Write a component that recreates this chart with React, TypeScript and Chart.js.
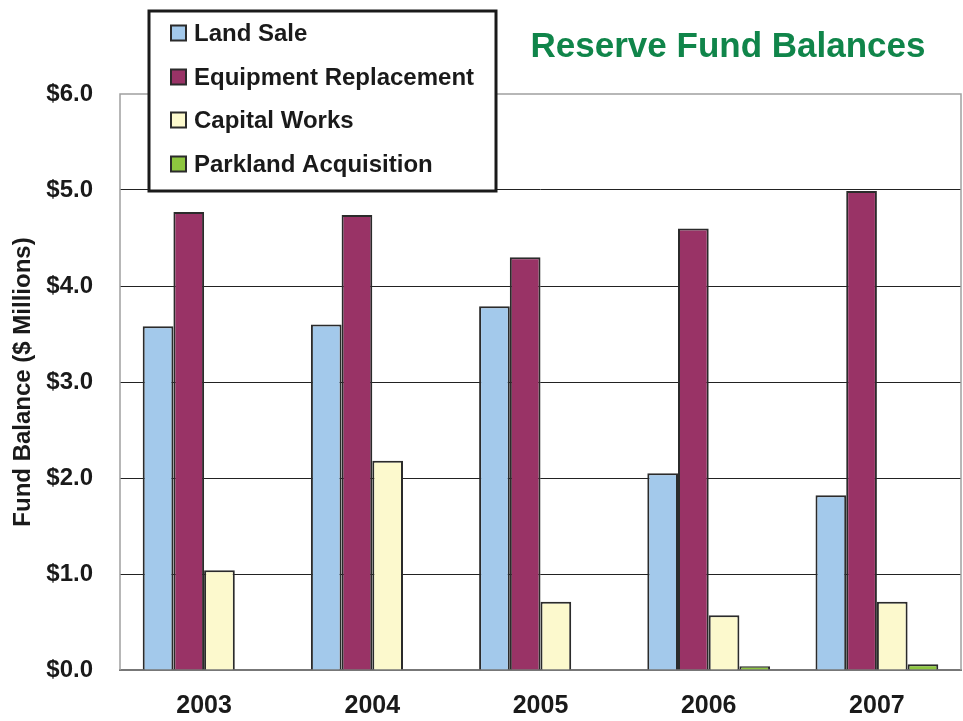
import React, { useEffect, useRef } from "react";
import { Chart, registerables } from "chart.js";

Chart.register(...registerables);

const years = ["2003", "2004", "2005", "2006", "2007"];
const landSale = [3.58, 3.6, 3.79, 2.05, 1.82];
const equipmentReplacement = [4.77, 4.74, 4.3, 4.6, 4.99];
const capitalWorks = [1.04, 2.18, 0.71, 0.57, 0.71];
const parklandAcquisition = [0, 0, 0, 0.04, 0.06];
const yTicks = [0, 1, 2, 3, 4, 5, 6];

const seriesNames = ["Land Sale", "Equipment Replacement", "Capital Works", "Parkland Acquisition"];
const seriesColors = ["#a3c9eb", "#993366", "#fcf9cd", "#8dc63f"];
const FONT = "'Liberation Sans', Arial, Helvetica, sans-serif";

const overlayPlugin = {
  id: "overlay",
  beforeDatasetsDraw(chart: any) {
    const { ctx, chartArea: a } = chart;
    ctx.save();
    ctx.strokeStyle = "#a0a0a0";
    ctx.lineWidth = 1.5;
    ctx.beginPath();
    ctx.moveTo(a.left, a.bottom);
    ctx.lineTo(a.left, a.top);
    ctx.lineTo(a.right, a.top);
    ctx.lineTo(a.right, a.bottom);
    ctx.stroke();
    ctx.restore();
  },
  afterDraw(chart: any) {
    const { ctx } = chart;
    ctx.save();
    // title
    ctx.fillStyle = "#10854a";
    ctx.font = `bold 35px ${FONT}`;
    ctx.textAlign = "center";
    ctx.textBaseline = "middle";
    ctx.fillText("Reserve Fund Balances", 728, 47);
    // legend box
    const bx = 149, by = 11, bw = 347, bh = 180;
    ctx.fillStyle = "#ffffff";
    ctx.fillRect(bx, by, bw, bh);
    ctx.strokeStyle = "#1a1a1a";
    ctx.lineWidth = 3;
    ctx.strokeRect(bx, by, bw, bh);
    const rowY = [33, 77, 120, 164];
    chart.data.datasets.forEach((ds: any, i: number) => {
      const y = rowY[i];
      ctx.fillStyle = ds.backgroundColor;
      ctx.fillRect(171, y - 7.5, 15, 15);
      ctx.strokeStyle = "#2b2b2b";
      ctx.lineWidth = 2;
      ctx.strokeRect(171, y - 7.5, 15, 15);
      ctx.fillStyle = "#1a1a1a";
      ctx.font = `bold 24px ${FONT}`;
      ctx.textAlign = "left";
      ctx.textBaseline = "middle";
      ctx.fillText(ds.label, 194, y + 1);
    });
    ctx.restore();
  },
};

export default function App() {
  const ref = useRef<HTMLCanvasElement>(null);
  useEffect(() => {
    if (!ref.current) return;
    const values = [landSale, equipmentReplacement, capitalWorks, parklandAcquisition];
    const chart = new Chart(ref.current, {
      type: "bar",
      data: {
        labels: years,
        datasets: values.map((v, i) => ({
          label: seriesNames[i],
          data: v,
          backgroundColor: seriesColors[i],
          borderColor: "#2b2b2b",
          borderWidth: 2,
          barPercentage: 1,
          categoryPercentage: 0.73,
        })),
      },
      options: {
        responsive: false,
        animation: false,
        devicePixelRatio: 1,
        layout: { padding: { top: 94, left: 0, right: 2, bottom: 1 } },
        plugins: {
          legend: { display: false },
          title: { display: false },
          tooltip: { enabled: false },
        },
        scales: {
          x: {
            grid: { display: false, drawTicks: false },
            border: { display: true, color: "#777", width: 2 },
            afterFit: (scale: any) => {
              scale.height = 50;
            },
            ticks: {
              color: "#1a1a1a",
              font: { family: FONT, size: 25, weight: "bold" },
              padding: 21,
            },
          },
          y: {
            min: 0,
            max: 6,
            afterBuildTicks: (scale: any) => {
              scale.ticks = yTicks.map((v) => ({ value: v }));
            },
            afterFit: (scale: any) => {
              scale.width = 120;
            },
            grid: {
              drawTicks: false,
              color: (c: any) => (c.tick && (c.tick.value === 0 || c.tick.value === 6) ? "rgba(0,0,0,0)" : "#222"),
              lineWidth: 1,
            },
            border: { display: false },
            ticks: {
              color: "#1a1a1a",
              font: { family: FONT, size: 24, weight: "bold" },
              padding: 27,
              callback: (v: any) => "$" + Number(v).toFixed(1),
            },
            title: {
              display: true,
              text: "Fund Balance ($ Millions)",
              color: "#1a1a1a",
              font: { family: FONT, size: 24, weight: "bold" },
              padding: { top: 9, bottom: 0 },
            },
          },
        },
      },
      plugins: [overlayPlugin],
    });
    return () => chart.destroy();
  }, []);
  return (
    <div style={{ position: "absolute", left: 0, top: 0, width: 963, height: 721, background: "#fff" }}>
      <canvas ref={ref} width={963} height={721} style={{ display: "block" }} />
    </div>
  );
}
